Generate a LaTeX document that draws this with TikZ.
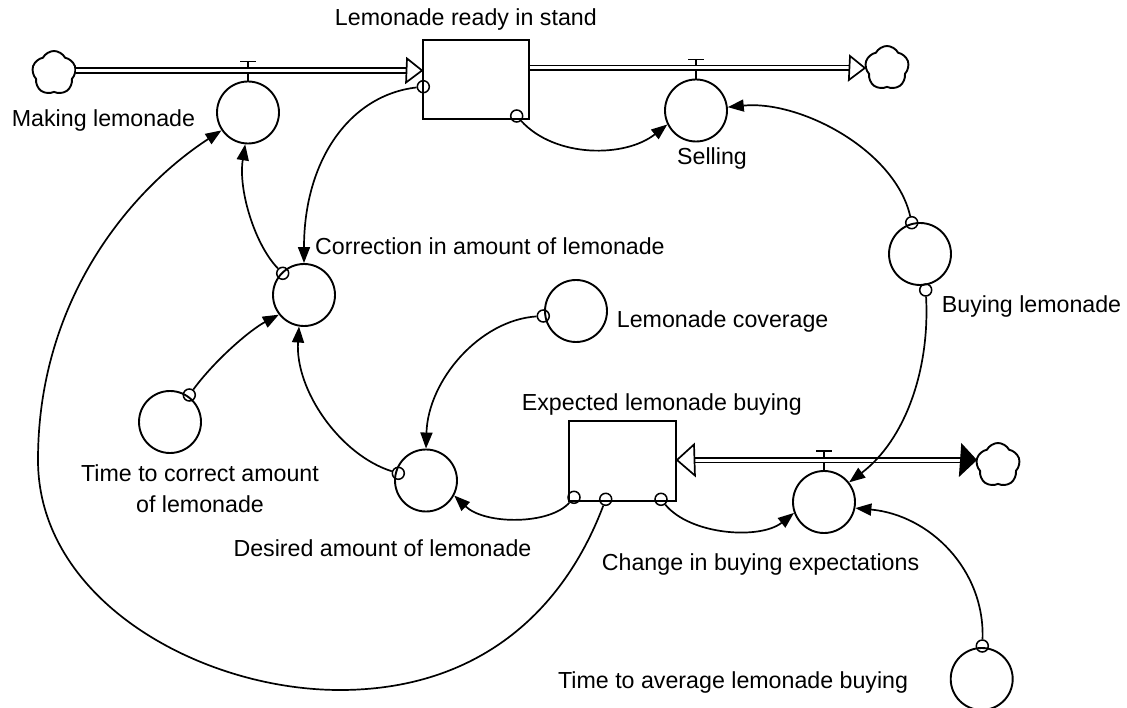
\documentclass[tikz,border=0pt]{standalone}
\usepackage{fontspec}
\setmainfont{Liberation Sans}
\usetikzlibrary{arrows.meta,shapes.symbols}

\begin{document}
\begin{tikzpicture}[x=1pt,y=-1pt,
  every node/.style={font=\fontsize{23.2}{31.3}\selectfont},
  aux/.style={draw, circle, line width=1.9pt, minimum size=62pt, inner sep=0pt},
  level/.style={draw, rectangle, line width=1.9pt, inner sep=0pt},
  src/.style={draw, circle, line width=1.5pt, minimum size=12pt, inner sep=0pt},
  link/.style={line width=1.7pt, -{Triangle[length=16pt,width=12pt]}},
  pipe/.style={double, double distance=3pt, line width=1.7pt},
  valve/.style={line width=1.7pt},
  tip/.style={line width=1.7pt, fill=white, line join=miter},
  solidtip/.style={line width=1.7pt, fill=black},
  cloudy/.style={draw, cloud, cloud puffs=5, cloud puff arc=125, line width=1.9pt,
                 minimum width=44pt, minimum height=44pt, aspect=1, inner sep=0pt},
  lbl/.style={inner sep=0pt},
]
\useasboundingbox (0,0) rectangle (1127,708);

% stocks
\node[level, minimum width=106pt, minimum height=79pt] (stand) at (476,79.5) {};
\node[level, minimum width=107pt, minimum height=80pt] (expect) at (622.5,461) {};

% auxiliaries and rates
\node[aux] (make) at (248,112.5) {};
\node[aux] (sell) at (696,110.5) {};
\node[aux] (corr) at (304,295) {};
\node[aux] (ttc)  at (170,422) {};
\node[aux] (cov)  at (576,311) {};
\node[aux] (buy)  at (920,254) {};
\node[aux] (des)  at (426,480.5) {};
\node[aux] (chg)  at (824,502) {};
\node[aux] (tta)  at (981.7,679) {};

% sources and sinks
\node[cloudy] (cL) at (54,73) {};
\node[cloudy] (cR) at (887,68) {};
\node[cloudy] (cB) at (998,465) {};

% connector origins
\node[src] (o1)  at (423.3,86.7) {};
\node[src] (o2)  at (516.7,116) {};
\node[src] (o3)  at (282.7,273.3) {};
\node[src] (o4)  at (189.3,395) {};
\node[src] (o5)  at (543.3,316) {};
\node[src] (o6)  at (911.7,222.7) {};
\node[src] (o7)  at (925.7,290) {};
\node[src] (o8)  at (398.3,473.3) {};
\node[src] (o9)  at (574,497.3) {};
\node[src] (o10) at (605.7,499.3) {};
\node[src] (o11) at (661,499.3) {};
\node[src] (o12) at (982.3,646) {};

% valve stems
\draw[valve] (make.north) -- ++(0,-19) ++(-8,0) -- ++(16,0);
\draw[valve] (sell.north) -- ++(0,-19) ++(-8,0) -- ++(16,0);
\draw[valve] (chg.north) -- ++(0,-19.3) ++(-8,0) -- ++(16,0);

% flow pipes
\coordinate (in1)  at (407,70.5);
\coordinate (out1) at (850,68);
\coordinate (in2)  at (694,460);
\coordinate (out2) at (962,460);

\draw[pipe] (cL.east |- in1) -- (in1);
\draw[tip] (in1) ++(0,-12) -- (stand.west |- in1) -- ++(-16,12) -- cycle;

\draw[pipe] (stand.east |- out1) -- (out1);
\draw[tip] (out1) ++(0,-12) -- (cR.west |- out1) -- ++(-16,12) -- cycle;

\draw[pipe] (out2) -- (in2);
\draw[tip] (in2) ++(0,-15.5) -- (expect.east |- in2) -- ++(18,15.5) -- cycle;
\draw[solidtip] (out2) ++(0,-15) -- (cB.west |- out2) -- ++(-16,15) -- cycle;

% information links
\draw[link] (o2) .. controls (555,158) and (625,158) .. (sell.206);
\draw[link] (o6) .. controls (895,150) and (800,100) .. (sell.6);
\draw[link] (o7) .. controls (930,370) and (905,440) .. (chg.38);
\draw[link] (o12) .. controls (985,570) and (930,515) .. (chg.349);
\draw[link] (o11) .. controls (690,535) and (760,540) .. (chg.200);
\draw[link] (o9) .. controls (550,525) and (485,525) .. (des.332);
\coordinate (loopS) at (340,690);
\coordinate (loopW) at (38,460);
\draw[link] (o10) .. controls (560,620) and (470,690) .. (loopS)
                  .. controls (200,690) and (38,600) .. (loopW)
                  .. controls (38,300) and (130,190) .. (make.214);
\draw[link] (o1) .. controls (350,95) and (304,160) .. (corr.90);
\draw[link] (o3) .. controls (255,245) and (238,190) .. (make.265);
\draw[link] (o4) .. controls (215,360) and (250,330) .. (corr.218);
\draw[link] (o8) .. controls (340,455) and (295,390) .. (corr.261);
\draw[link] (o5) .. controls (480,320) and (428,380) .. (des.90);

% labels
\node[lbl, anchor=base east] (tStand) at (597,26) {Lemonade ready in stand};
\node[lbl, anchor=base west] (tMake) at (11.7,126.7) {Making lemonade};
\node[lbl, anchor=base west] (tSell) at (677,165) {Selling};
\node[lbl, anchor=base west] (tCorr) at (315,255) {Correction in amount of lemonade};
\node[lbl, anchor=base west] (tCov) at (616.7,327.3) {Lemonade coverage};
\node[lbl, anchor=base west] (tBuy) at (941.7,312.7) {Buying lemonade};
\node[lbl, anchor=base west] (tExp) at (521.7,410) {Expected lemonade buying};
\node[lbl, align=center] (tTtc) at (200,489) {Time to correct amount\\of lemonade};
\node[lbl, anchor=base west] (tDes) at (233.3,556) {Desired amount of lemonade};
\node[lbl, anchor=base west] (tChg) at (601.7,570.7) {Change in buying expectations};
\node[lbl, anchor=base east] (tTta) at (908.3,688) {Time to average lemonade buying};
\end{tikzpicture}
\end{document}
